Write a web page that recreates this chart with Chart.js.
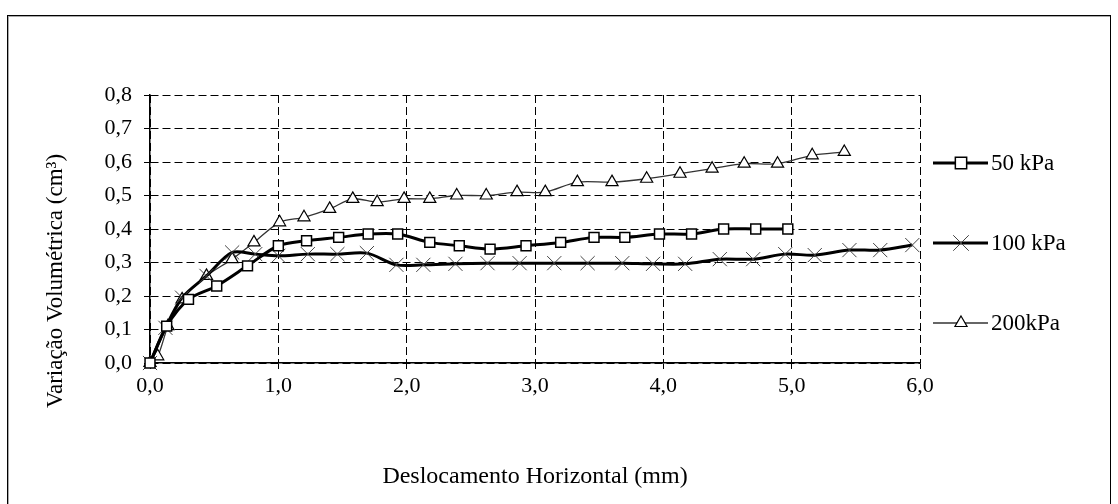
<!DOCTYPE html>
<html><head><meta charset="utf-8">
<script src="https://cdn.jsdelivr.net/npm/chart.js@4.4.1/dist/chart.umd.min.js"></script>
<style>
html,body{margin:0;padding:0;background:#fff;width:1118px;height:504px;overflow:hidden}
#frame{position:absolute;left:7px;top:15px;width:1102px;height:600px;border:1px solid #000;box-shadow:inset 1px 1px 0 #aaa}
#wrap{position:absolute;left:0;top:0;width:1118px;height:504px}
</style></head><body>
<div id="frame"></div>
<div id="wrap"><canvas id="c" width="1118" height="504"></canvas></div>
<script>
// ---- data ----
const xTickLabels = ['0,0','1,0','2,0','3,0','4,0','5,0','6,0'];
const yTickLabels = ['0,0','0,1','0,2','0,3','0,4','0,5','0,6','0,7','0,8'];
const seriesNames = ['50 kPa','100 kPa','200kPa'];
const xTitle = 'Deslocamento Horizontal (mm)';
const yTitle = 'Variação Volumétrica (cm³)';

const x50 = [0, 0.13, 0.30, 0.52, 0.76, 1.00, 1.22, 1.47, 1.70, 1.93, 2.18, 2.41, 2.65, 2.93, 3.20, 3.46, 3.70, 3.97, 4.22, 4.47, 4.72, 4.97];
const y50 = [0, 0.11, 0.19, 0.23, 0.29, 0.35, 0.365, 0.375, 0.385, 0.385, 0.36, 0.35, 0.34, 0.35, 0.36, 0.375, 0.375, 0.385, 0.385, 0.40, 0.40, 0.40];

const x100 = [0, 0.12, 0.25, 0.44, 0.64, 0.82, 1.00, 1.23, 1.46, 1.69, 1.92, 2.13, 2.38, 2.63, 2.88, 3.15, 3.41, 3.68, 3.92, 4.17, 4.44, 4.70, 4.95, 5.18, 5.45, 5.69, 5.94];
const y100 = [0, 0.105, 0.195, 0.26, 0.33, 0.325, 0.32, 0.325, 0.325, 0.328, 0.293, 0.293, 0.296, 0.298, 0.298, 0.298, 0.298, 0.298, 0.296, 0.296, 0.31, 0.31, 0.325, 0.322, 0.337, 0.337, 0.352];

const x200 = [0, 0.06, 0.14, 0.25, 0.44, 0.64, 0.81, 1.01, 1.20, 1.40, 1.58, 1.77, 1.98, 2.18, 2.39, 2.62, 2.86, 3.08, 3.33, 3.60, 3.87, 4.13, 4.38, 4.63, 4.89, 5.16, 5.41];
const y200 = [0, 0.02, 0.11, 0.19, 0.26, 0.31, 0.36, 0.42, 0.435, 0.46, 0.49, 0.48, 0.49, 0.49, 0.50, 0.50, 0.51, 0.51, 0.54, 0.54, 0.55, 0.565, 0.58, 0.595, 0.595, 0.62, 0.63];

const toPts = (xs, ys) => xs.map((x, i) => ({x: x, y: ys[i]}));

const FONT = '"Liberation Serif", "Times New Roman", serif';

const legendPlugin = {
  id: 'sideLegend',
  afterDraw(chart) {
    const ctx = chart.ctx;
    const ys = [163, 243, 323];
    const radii = [8, 11, 7];
    chart.data.datasets.forEach((ds, i) => {
      const y = ys[i];
      ctx.save();
      ctx.strokeStyle = ds.borderColor;
      ctx.lineWidth = ds.borderWidth;
      ctx.beginPath(); ctx.moveTo(933, y); ctx.lineTo(988, y); ctx.stroke();
      ctx.fillStyle = ds.pointBackgroundColor;
      ctx.strokeStyle = ds.pointBorderColor;
      ctx.lineWidth = ds.pointBorderWidth;
      Chart.helpers.drawPoint(ctx, {pointStyle: ds.pointStyle, radius: radii[i], rotation: 0, borderWidth: ds.pointBorderWidth}, 961, y);
      ctx.fillStyle = '#000';
      ctx.font = '23px ' + FONT;
      ctx.textAlign = 'left';
      ctx.textBaseline = 'middle';
      ctx.fillText(ds.label, 991, y + 1);
      ctx.restore();
    });
  }
};

const yTitlePlugin = {
  id: 'yTitle',
  afterDraw(chart) {
    const ctx = chart.ctx;
    ctx.save();
    ctx.translate(56, 281);
    ctx.rotate(-Math.PI / 2);
    ctx.fillStyle = '#000';
    ctx.font = '23px ' + FONT;
    ctx.textAlign = 'center';
    ctx.textBaseline = 'middle';
    ctx.fillText(yTitle, 0, 0);
    ctx.restore();
  }
};

new Chart(document.getElementById('c'), {
  type: 'line',
  data: {
    datasets: [
      {label: seriesNames[0], data: toPts(x50, y50), borderColor: '#000', borderWidth: 3,
       pointStyle: 'rect', pointRadius: 7, pointBackgroundColor: '#fff', pointBorderColor: '#000', pointBorderWidth: 1.5,
       tension: 0.3, clip: false},
      {label: seriesNames[1], data: toPts(x100, y100), borderColor: '#000', borderWidth: 3,
       pointStyle: 'crossRot', pointRadius: 10, pointBackgroundColor: '#444', pointBorderColor: '#444', pointBorderWidth: 1,
       tension: 0.3, clip: false},
      {label: seriesNames[2], data: toPts(x200, y200), borderColor: '#333', borderWidth: 1.3,
       pointStyle: 'triangle', pointRadius: 7, pointBackgroundColor: '#fff', pointBorderColor: '#000', pointBorderWidth: 1.2,
       tension: 0.3, clip: false}
    ]
  },
  options: {
    responsive: false,
    animation: false,
    devicePixelRatio: 1,
    layout: {padding: {top: 95, right: 198, left: 0, bottom: 0}},
    plugins: {legend: {display: false}, tooltip: {enabled: false}},
    scales: {
      x: {
        type: 'linear', min: 0, max: 6,
        afterFit(s) { s.height = 141; },
        ticks: {stepSize: 1, autoSkip: false, maxRotation: 0, padding: 4, color: '#000',
          font: {family: FONT, size: 22},
          callback: (v) => xTickLabels[Math.round(v)]},
        grid: {color: '#000', lineWidth: 1, tickLength: 6, tickColor: '#000'},
        border: {display: true, color: '#000', width: 1.5, dash: [8, 4]},
        title: {display: true, text: xTitle, color: '#000', font: {family: FONT, size: 24}, padding: {top: 4, bottom: 13}}
      },
      y: {
        type: 'linear', min: 0, max: 0.8,
        afterFit(s) { s.width = 150; },
        ticks: {stepSize: 0.1, autoSkip: false, padding: 12, color: '#000',
          font: {family: FONT, size: 22},
          callback: (v) => yTickLabels[Math.round(v * 10)]},
        grid: {color: '#000', lineWidth: 1, tickLength: 6, tickColor: '#000'},
        border: {display: true, color: '#000', width: 1.5, dash: [8, 4]},
        title: {display: false}
      }
    }
  },
  plugins: [legendPlugin, yTitlePlugin]
});
</script>
</body></html>
